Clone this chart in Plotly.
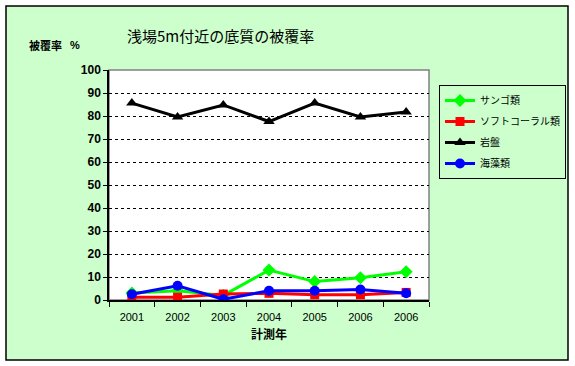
import plotly.graph_objects as go

years = ["2001", "2002", "2003", "2004", "2005", "2006", "2006"]
sango = [3, 4, 2, 13, 8, 9.7, 12.3]
soft_coral = [1.2, 1.2, 2.6, 2.9, 2.3, 2.3, 3.3]
ganban = [85.6, 79.6, 84.8, 77.6, 85.6, 79.6, 81.7]
kaiso = [2.5, 6.2, 0.3, 4.0, 4.0, 4.6, 2.9]

series_names = ["サンゴ類", "ソフトコーラル類", "岩盤", "海藻類"]
y_ticks = list(range(0, 101, 10))

x = list(range(len(years)))

JP = "Noto Sans CJK JP, Liberation Sans, Arial, sans-serif"
LAT = "Liberation Sans, Arial, sans-serif"

fig = go.Figure()
styles = [
    (sango, "#00FF00", "diamond", 10),
    (soft_coral, "#FF0000", "square", 9),
    (ganban, "#000000", "triangle-up", 10),
    (kaiso, "#0000FF", "circle", 10),
]
for (vals, col, sym, sz), name in zip(styles, series_names):
    fig.add_trace(go.Scatter(
        x=x, y=vals, name=name, mode="lines+markers",
        legendgroup=name,
        line=dict(color=col, width=3),
        marker=dict(color=col, symbol=sym, size=sz),
    ))

L, R, T, B = 109, 429, 70, 300
W, H = 575, 366
pw, ph = R - L, B - T

def px(xp):
    return (xp - L) / pw

def py(yp):
    return (B - yp) / ph

shapes = [
    dict(type="rect", xref="paper", yref="paper", layer="below",
         x0=px(6), x1=px(568), y0=py(360), y1=py(6),
         fillcolor="#CCFFCC", line=dict(color="black", width=1.5)),
    dict(type="rect", xref="paper", yref="paper", layer="below",
         x0=0, x1=1, y0=0, y1=1,
         fillcolor="white", line=dict(color="#808080", width=1.5)),
]

fig.update_layout(
    width=W, height=H,
    margin=dict(l=L, r=W - R, t=T, b=H - B, autoexpand=False),
    paper_bgcolor="white",
    plot_bgcolor="rgba(0,0,0,0)",
    shapes=shapes,
    showlegend=True,
    legend=dict(
        x=px(439), y=py(85), xanchor="left", yanchor="top",
        bgcolor="rgba(0,0,0,0)", bordercolor="black", borderwidth=1,
        font=dict(family=JP, size=10, color="black"),
        itemwidth=30, tracegroupgap=2, traceorder="grouped",
    ),
    annotations=[
        dict(text="浅場5m付近の底質の被覆率", xref="paper", yref="paper",
             x=px(125), y=py(36), xanchor="left", yanchor="middle",
             showarrow=False, font=dict(family=JP, size=15, color="black")),
        dict(text="<b>被覆率</b>", xref="paper", yref="paper",
             x=px(27), y=py(45), xanchor="left", yanchor="middle",
             showarrow=False, font=dict(family=JP, size=11, color="black")),
        dict(text="<b>%</b>", xref="paper", yref="paper",
             x=px(68), y=py(45), xanchor="left", yanchor="middle",
             showarrow=False, font=dict(family=LAT, size=11, color="black")),
        dict(text="<b>計測年</b>", xref="paper", yref="paper",
             x=px(269), y=py(333), xanchor="center", yanchor="middle",
             showarrow=False, font=dict(family=JP, size=12, color="black")),
    ],
)

fig.update_xaxes(
    range=[-0.5, len(years) - 0.5],
    tickmode="array", tickvals=x, ticktext=years,
    ticks="", showgrid=False, zeroline=False,
    showline=True, linecolor="black", linewidth=1.5,
    tickfont=dict(family=LAT, size=11, color="black"),
    ticklabelstandoff=6,
    minor=dict(tickmode="array", tickvals=[i - 0.5 for i in range(len(years) + 1)],
               ticks="outside", ticklen=5, tickcolor="black", showgrid=False),
    fixedrange=True,
)
fig.update_yaxes(
    range=[0, 100], tickmode="array", tickvals=y_ticks,
    ticktext=[f"<b>{v}</b>" for v in y_ticks],
    ticks="outside", ticklen=4, tickcolor="black",
    showgrid=True, gridcolor="black", griddash="3px,3px", gridwidth=1,
    zeroline=False, showline=True, linecolor="black", linewidth=1.5,
    tickfont=dict(family=LAT, size=12, color="black"),
    fixedrange=True,
)

fig.write_html("out.html", config={"displayModeBar": False},
               post_script="document.body.style.margin='0';document.body.style.padding='0';")
